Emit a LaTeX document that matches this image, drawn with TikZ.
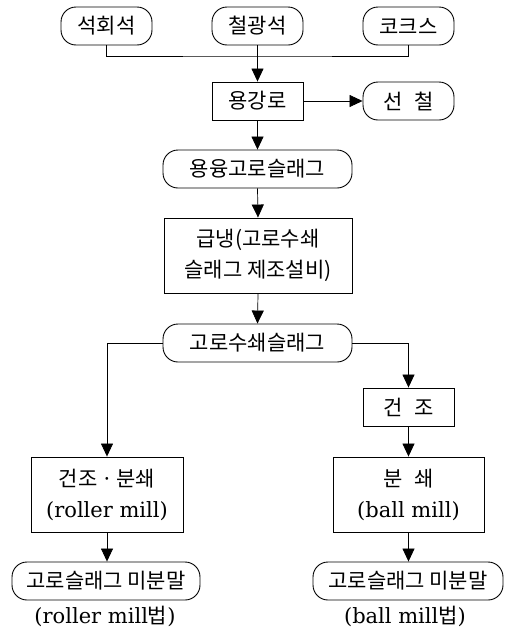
\documentclass[tikz,border=0pt]{standalone}
\usepackage{fontspec}
\setmainfont{DejaVu Serif}
\newfontfamily\kr{Noto Sans CJK KR}
\usetikzlibrary{arrows.meta}
\begin{document}
\begin{tikzpicture}[x=1pt,y=-1pt,
  base/.style={draw=black,line width=0.9pt,inner sep=0pt,align=center,
     font=\fontsize{21}{31}\selectfont\kr},
  pill/.style={base,rounded corners=15pt,minimum height=38pt},
  boxx/.style={base,minimum height=38pt},
  conn/.style={line width=0.7pt},
  arr/.style={conn,-{Triangle[length=13pt,width=12pt]}},
  lat/.style={font=\fontsize{21}{31}\selectfont}
]
\useasboundingbox (0,0) rectangle (507,635);
% top inputs
\node[pill,minimum width=91pt] (A) at (106.5,26) {석회석};
\node[pill,minimum width=91pt] (B) at (257.5,26) {철광석};
\node[pill,minimum width=91pt] (C) at (408.5,26) {코크스};
\coordinate (j) at (257.5,56);
\node[boxx,minimum width=91pt] (D) at (257.5,101) {용강로};
\node[pill,minimum width=91pt] (E) at (408.5,101) {선\hspace{0.55em}철};
\node[pill,minimum width=189pt] (F) at (257.5,169) {용융고로슬래그};
\node[boxx,minimum width=188pt,minimum height=75pt] (G) at (258,255.5) {급냉(고로수쇄\\슬래그 제조설비)};
\node[pill,minimum width=189pt] (H) at (257.5,343) {고로수쇄슬래그};
\node[boxx,minimum width=91pt] (I) at (408.5,407) {건\hspace{0.55em}조};
\node[boxx,minimum width=152pt,minimum height=75pt] (J) at (107,494.5)
  {건조\,·\,분쇄\\{\fontspec{DejaVu Serif}\fontsize{21}{31}\selectfont (roller mill)}};
\node[boxx,minimum width=151pt,minimum height=75pt] (K) at (408.5,494.5)
  {분\hspace{0.55em}쇄\\{\fontspec{DejaVu Serif}\fontsize{21}{31}\selectfont (ball mill)}};
\node[pill,minimum width=188pt] (L) at (106,581) {고로슬래그 미분말};
\node[pill,minimum width=190pt] (M) at (408,581) {고로슬래그 미분말};
\node[lat] (La) at (105,616) {(roller mill{\kr\fontsize{21}{31}\selectfont 법})};
\node[lat] (Ma) at (405,616) {(ball mill{\kr\fontsize{21}{31}\selectfont 법})};
% connectors
\draw[conn] (A.south) |- (j) -| (C.south);
\draw[arr] (B.south) -- (D.north);
\draw[arr] (D.east) -- (E.west);
\draw[arr] (D.south) -- (F.north);
\draw[arr] (F.south) -- (G.north);
\draw[arr] (G.south) -- (H.north);
\draw[arr] (H.west) -| (J.north);
\draw[arr] (H.east) -| (I.north);
\draw[arr] (I.south) -- (K.north);
\draw[arr] (J.south) -- (J.south |- L.north);
\draw[arr] (K.south) -- (K.south |- M.north);
\end{tikzpicture}
\end{document}
